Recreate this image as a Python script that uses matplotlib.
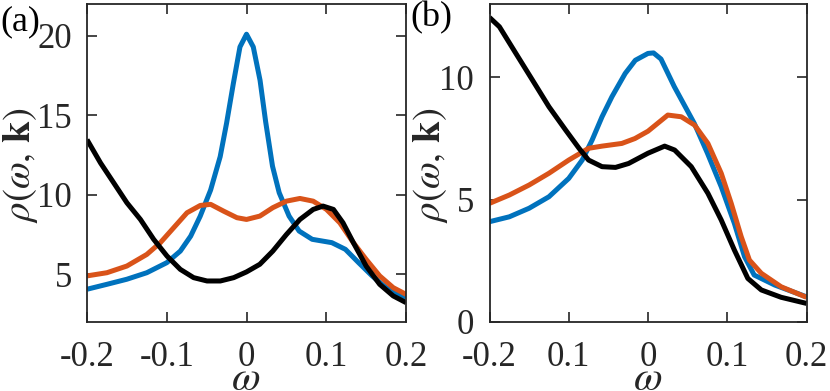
import numpy as np
import matplotlib.pyplot as plt

plt.rcParams['font.family'] = ['Liberation Serif', 'DejaVu Serif']
plt.rcParams['mathtext.fontset'] = 'stix'

# panel (a)
w_a_blue = [-0.2, -0.175, -0.15, -0.125, -0.1, -0.083, -0.07, -0.058, -0.045, -0.033,
            -0.025, -0.0165, -0.0082, 0.0, 0.0085, 0.017, 0.024, 0.0326, 0.041, 0.0534,
            0.066, 0.0824, 0.107, 0.124, 0.1406, 0.1575, 0.175, 0.2]
rho_a_blue = [4.06, 4.37, 4.69, 5.1, 5.73, 6.46, 7.4, 8.66, 10.3, 12.4,
              14.5, 17.0, 19.3, 20.1, 19.3, 17.2, 14.6, 11.8, 10.13, 8.66,
              7.72, 7.2, 6.99, 6.57, 5.73, 4.9, 4.16, 3.54]

w_a_orange = [-0.2, -0.175, -0.15, -0.125, -0.108, -0.0913, -0.0746, -0.058, -0.045, -0.0286,
              -0.012, 0.0, 0.0167, 0.033, 0.05, 0.067, 0.0836, 0.1003, 0.117, 0.134,
              0.15, 0.167, 0.184, 0.2]
rho_a_orange = [4.9, 5.1, 5.52, 6.25, 6.99, 7.93, 8.87, 9.33, 9.4, 8.97,
                8.56, 8.45, 8.66, 9.19, 9.6, 9.77, 9.6, 9.08, 8.24, 6.99,
                5.94, 4.9, 4.16, 3.74]

w_a_black = [-0.2, -0.183, -0.1666, -0.15, -0.133, -0.1164, -0.0997, -0.083, -0.0663, -0.0495,
             -0.0328, -0.016, 0.0, 0.0167, 0.033, 0.05, 0.067, 0.0836, 0.096, 0.109,
             0.121, 0.134, 0.15, 0.167, 0.184, 0.2]
rho_a_black = [13.47, 12.0, 10.76, 9.5, 8.45, 7.2, 6.15, 5.31, 4.79, 4.58,
               4.58, 4.79, 5.15, 5.63, 6.46, 7.5, 8.45, 9.08, 9.29, 9.08,
               8.24, 6.99, 5.52, 4.37, 3.64, 3.22]

# panel (b)
w_b_blue = [-0.2, -0.175, -0.15, -0.125, -0.1, -0.083, -0.0705, -0.058, -0.0455, -0.0288,
            -0.016, 0.0, 0.007, 0.0164, 0.0332, 0.0584, 0.075, 0.0924, 0.109, 0.1218,
            0.134, 0.16, 0.2]
rho_b_blue = [4.1, 4.3, 4.65, 5.12, 5.87, 6.62, 7.44, 8.39, 9.21, 10.16,
              10.7, 10.98, 11.0, 10.75, 9.62, 8.12, 6.9, 5.53, 4.03, 2.67,
              1.92, 1.51, 1.03]

w_b_orange = [-0.2, -0.175, -0.15, -0.125, -0.1, -0.075, -0.058, -0.033, -0.0165, 0.0,
              0.025, 0.042, 0.0588, 0.0756, 0.0924, 0.105, 0.1176, 0.128, 0.143, 0.168,
              0.2]
rho_b_orange = [4.85, 5.19, 5.6, 6.08, 6.62, 7.1, 7.19, 7.3, 7.5, 7.8,
                8.46, 8.39, 8.05, 7.3, 6.08, 4.85, 3.49, 2.53, 1.99, 1.44,
                1.01]

w_b_black = [-0.2, -0.1875, -0.1667, -0.1458, -0.125, -0.104, -0.087, -0.075, -0.058, -0.041,
             -0.0245, 0.0, 0.021, 0.0336, 0.0546, 0.0756, 0.0924, 0.109, 0.126, 0.143,
             0.168, 0.2]
rho_b_black = [12.45, 12.07, 10.98, 9.89, 8.8, 7.85, 7.1, 6.62, 6.35, 6.32,
               6.48, 6.9, 7.19, 7.03, 6.35, 5.26, 4.17, 2.94, 1.78, 1.31,
               1.01, 0.76]

xticks = [-0.2, -0.1, 0, 0.1, 0.2]
xlabels_a = ['-0.2', '-0.1', '0', '0.1', '0.2']
xlabels_b = ['-0.2', '0.1', '0', '0.1', '0.2']
yticks_a = [5, 10, 15, 20]
yticks_b = [0, 5, 10]

blue = '#0072BD'
orange = '#D95319'
axcol = '#262626'
W, H = 830, 391

fig = plt.figure(figsize=(8.3, 3.91), dpi=100)
ax1 = fig.add_axes([87 / W, 1 - 322 / H, 319 / W, 318 / H])
ax2 = fig.add_axes([489.5 / W, 1 - 322 / H, 317 / W, 318 / H])

lw = 3.6
for ax, data in [(ax1, [(w_a_blue, rho_a_blue, blue), (w_a_orange, rho_a_orange, orange),
                        (w_a_black, rho_a_black, 'black')]),
                 (ax2, [(w_b_blue, rho_b_blue, blue), (w_b_orange, rho_b_orange, orange),
                        (w_b_black, rho_b_black, 'black')])]:
    for x, y, c in data:
        ax.plot(x, y, color=c, lw=lw, solid_joinstyle='round', solid_capstyle='butt')
    ax.set_xlim(-0.2, 0.2)
    ax.set_xticks(xticks)
    ax.tick_params(direction='in', length=7, width=1.2, top=True, right=True,
                   labelsize=25, colors=axcol, pad=11)
    ax.tick_params(axis='x', pad=14)
    for s in ax.spines.values():
        s.set_linewidth(1.3)
        s.set_color(axcol)

ax1.set_ylim(2, 22)
ax1.set_yticks(yticks_a)
ax1.set_xticklabels(xlabels_a)
ax2.set_ylim(0, 13)
ax2.set_yticks(yticks_b)
ax2.set_xticklabels(xlabels_b)

ylab = r'$\rho(\omega,\,\mathbf{k})$'
fig.text(20 / W, 1 - 165 / H, ylab, rotation=90, ha='center', va='center', fontsize=28, color=axcol)
fig.text(430 / W, 1 - 165 / H, ylab, rotation=90, ha='center', va='center', fontsize=28, color=axcol)
fig.text(246 / W, 1 - 380 / H, r'$\omega$', ha='center', va='center', fontsize=30, color=axcol)
fig.text(648 / W, 1 - 380 / H, r'$\omega$', ha='center', va='center', fontsize=30, color=axcol)
fig.text(0, 1 - 22 / H, '(a)', ha='left', va='center', fontsize=26, color='black')
fig.text(410 / W, 1 - 18 / H, '(b)', ha='left', va='center', fontsize=26, color='black')

fig.savefig('out.png', dpi=100)
